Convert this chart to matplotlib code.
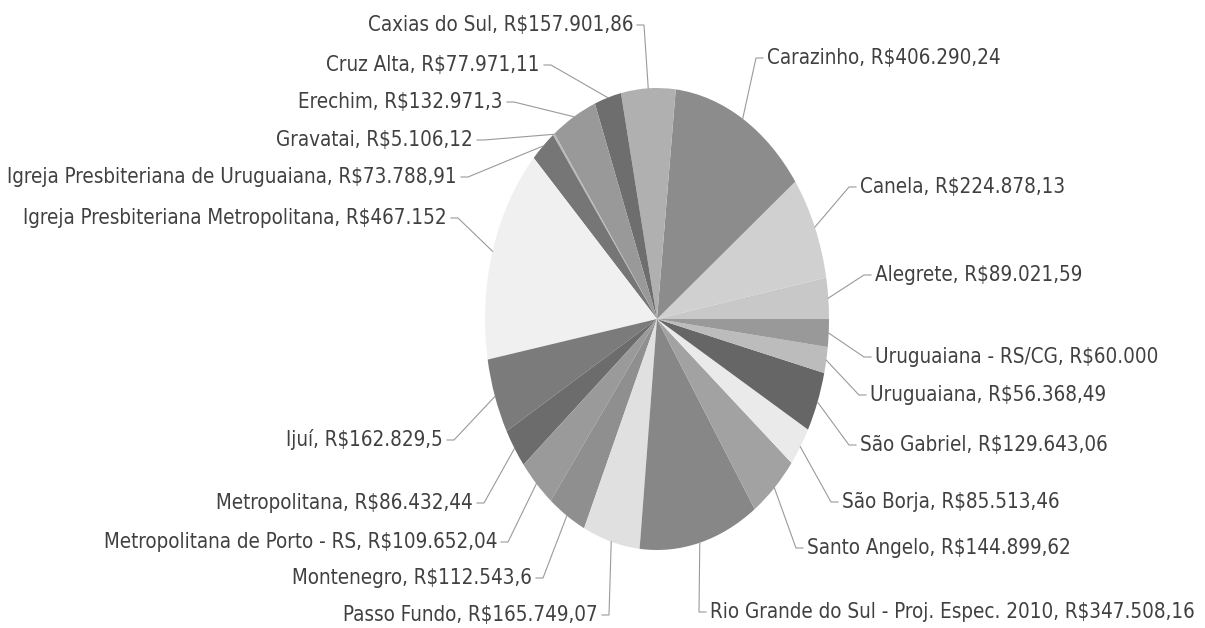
import matplotlib
matplotlib.use("Agg")
import matplotlib.pyplot as plt
import numpy as np

# Dados: valores por região (ordem alfabética, sentido anti-horário a partir das 3h)
regioes = ["Alegrete", "Canela", "Carazinho", "Caxias do Sul", "Cruz Alta",
           "Erechim", "Gravatai", "Igreja Presbiteriana de Uruguaiana",
           "Igreja Presbiteriana Metropolitana", "Ijuí", "Metropolitana",
           "Metropolitana de Porto - RS", "Montenegro", "Passo Fundo",
           "Rio Grande do Sul - Proj. Espec. 2010", "Santo Angelo",
           "São Borja", "São Gabriel", "Uruguaiana", "Uruguaiana - RS/CG"]
valores = [89021.59, 224878.13, 406290.24, 157901.86, 77971.11,
           132971.3, 5106.12, 73788.91, 467152, 162829.5, 86432.44,
           109652.04, 112543.6, 165749.07, 347508.16, 144899.62,
           85513.46, 129643.06, 56368.49, 60000]

# Tons de cinza de cada fatia
cores = ["#c8c8c8", "#d0d0d0", "#8c8c8c", "#b0b0b0", "#6e6e6e",
         "#999999", "#b8b8b8", "#767676", "#f0f0f0", "#7b7b7b",
         "#6c6c6c", "#9a9a9a", "#8f8f8f", "#e0e0e0", "#878787",
         "#a2a2a2", "#eaeaea", "#666666", "#bcbcbc", "#999999"]

# Posição dos rótulos em pixels (x da borda do texto, y do centro, alinhamento)
pos_rotulos = [(875, 275, "left"), (860, 187, "left"), (767, 58, "left"),
               (633, 25, "right"), (540, 65, "right"), (503, 102, "right"),
               (473, 140, "right"), (457, 177, "right"), (447, 218, "right"),
               (443, 440, "right"), (473, 503, "right"), (497, 542, "right"),
               (532, 578, "right"), (598, 615, "right"), (710, 612, "left"),
               (807, 548, "left"), (842, 502, "left"), (860, 445, "left"),
               (870, 395, "left"), (875, 357, "left")]


def formata_real(v):
    s = format(v, ",.2f")
    inteiro, dec = s.split(".")
    inteiro = inteiro.replace(",", ".")
    dec = dec.rstrip("0")
    return "R$" + inteiro + ("," + dec if dec else "")


W, H = 1205, 628
cx, cy, rx, ry = 657, 319, 172, 231

fig = plt.figure(figsize=(W / 100, H / 100), dpi=100)
fig.patch.set_facecolor("white")

# Eixo da pizza (esticado verticalmente -> elipse)
ax = fig.add_axes([(cx - rx) / W, 1 - (cy + ry) / H, 2 * rx / W, 2 * ry / H])
wedges, _ = ax.pie(valores, colors=cores, startangle=0, counterclock=True,
                   radius=1, wedgeprops=dict(linewidth=0))
ax.set_aspect("auto")
ax.set_xlim(-1, 1)
ax.set_ylim(-1, 1)
ax.axis("off")

# Eixo de sobreposição em pixels para rótulos
lab = fig.add_axes([0, 0, 1, 1])
lab.set_xlim(0, W)
lab.set_ylim(H, 0)
lab.axis("off")
lab.patch.set_alpha(0)

to_lab = lab.transData.inverted()
for w, nome, v, (tx, ty, ha) in zip(wedges, regioes, valores, pos_rotulos):
    ang = np.deg2rad((w.theta1 + w.theta2) / 2)
    px, py = to_lab.transform(ax.transData.transform((np.cos(ang), np.sin(ang))))
    sgn = -1 if ha == "left" else 1
    ex = tx + sgn * 11
    lab.plot([px, ex, tx + sgn * 4], [py, ty, ty], color="#9a9a9a", lw=0.8,
             solid_joinstyle="miter")
    lab.text(tx, ty, nome + ", " + formata_real(v), ha=ha, va="center",
             fontsize=14.8, color="#404040", family="DejaVu Sans",
             fontstretch="condensed")

fig.savefig("out.png", dpi=100)
